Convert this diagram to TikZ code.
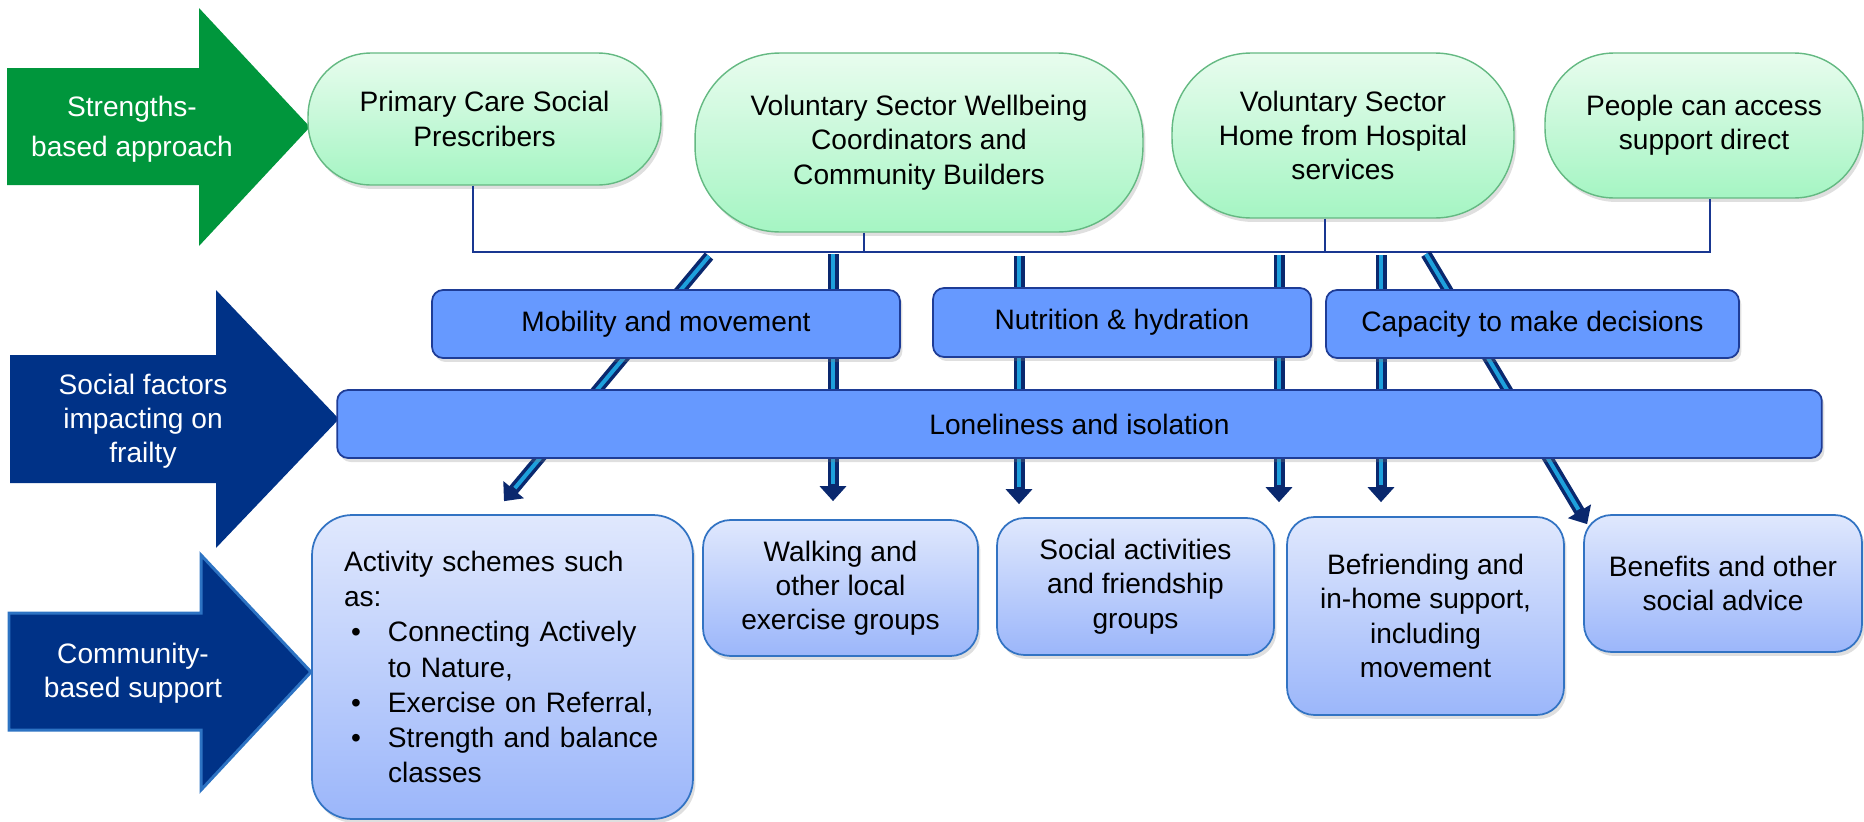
\documentclass[tikz,border=0pt]{standalone}
\usepackage{fontspec}
\setmainfont{Liberation Sans}
\usepackage{tikz}
\usetikzlibrary{arrows.meta,calc,shadows}

\definecolor{strengthgreen}{RGB}{0,150,60}
\definecolor{factornavy}{RGB}{0,50,135}
\definecolor{communityedge}{RGB}{45,115,195}
\definecolor{sourcetop}{RGB}{232,252,238}
\definecolor{sourcebottom}{RGB}{165,245,195}
\definecolor{sourceedge}{RGB}{100,185,130}
\definecolor{factorfill}{RGB}{102,153,255}
\definecolor{factoredge}{RGB}{30,60,150}
\definecolor{supporttop}{RGB}{224,232,253}
\definecolor{supportbottom}{RGB}{155,182,250}
\definecolor{supportedge}{RGB}{50,115,195}
\definecolor{busblue}{RGB}{25,55,145}
\definecolor{flownavy}{RGB}{10,40,110}
\definecolor{flowcyan}{RGB}{30,160,220}

\tikzset{
  boxtext/.style={font=\fontsize{16}{19.5}\selectfont, align=center, inner sep=0pt},
  softshadow/.style={drop shadow={opacity=0.25, shadow xshift=0.05cm, shadow yshift=-0.08cm}},
  sourcebox/.style={boxtext, draw=sourceedge, line width=0.8pt, top color=sourcetop, bottom color=sourcebottom, softshadow},
  factorbox/.style={boxtext, draw=factoredge, line width=1pt, fill=factorfill, rounded corners=0.22cm, minimum height=1.36cm, softshadow},
  supportbox/.style={boxtext, draw=supportedge, line width=1pt, top color=supporttop, bottom color=supportbottom, rounded corners=0.55cm, softshadow},
  sidetext/.style={font=\fontsize{16}{19.5}\selectfont, text=white, align=center},
  busline/.style={draw=busblue, line width=1.5pt},
  flow/.style={draw=flownavy, line width=0.22cm, -{Triangle[width=0.52cm,length=0.3cm]},
    postaction={draw=flowcyan, line width=0.08cm, -, shorten >=0.34cm}}
}

\begin{document}
\begin{tikzpicture}[x=0.02cm, y=-0.02cm]
    \useasboundingbox (0,0) rectangle (1864,822);

    % Side arrows
    \fill[strengthgreen] (7,68) -- (199,68) -- (199,8) -- (310,127) -- (199,246) -- (199,185) -- (7,185) -- cycle;
    \node[sidetext, font=\fontsize{16}{22.7}\selectfont] (lblstr) at (132,129) {Strengths-\\based approach};

    \fill[factornavy] (10,355) -- (216,355) -- (216,290) -- (339,419) -- (216,548) -- (216,483) -- (10,483) -- cycle;
    \node[sidetext] (lblsoc) at (143,421) {Social factors\\impacting on\\frailty};

    \filldraw[fill=factornavy, draw=communityedge, line width=0.06cm] (9,613) -- (201,613) -- (201,555) -- (311,672) -- (201,790) -- (201,730) -- (9,730) -- cycle;
    \node[sidetext] (lblcom) at (133,673) {Community-\\based support};

    % Referral routes
    \node[sourcebox, minimum width=7.06cm, minimum height=2.64cm, rounded corners=1.26cm] (pcsp) at (484.5,119) {Primary Care Social\\Prescribers};
    \node[sourcebox, minimum width=8.96cm, minimum height=3.58cm, rounded corners=1.7cm] (vswb) at (919,142.5) {Voluntary Sector Wellbeing\\Coordinators and\\Community Builders};
    \node[sourcebox, minimum width=6.84cm, minimum height=3.3cm, rounded corners=1.58cm] (vshh) at (1343,135.5) {Voluntary Sector\\Home from Hospital\\services};
    \node[sourcebox, minimum width=6.36cm, minimum height=2.9cm, rounded corners=1.38cm] (pcad) at (1704,125.5) {People can access\\support direct};

    % Community-based support
    \node[supportbox, minimum width=7.62cm, minimum height=6.08cm, rounded corners=0.8cm, text width=6.34cm, align=left, font=\fontsize{16}{20}\selectfont] (act) at (502.5,667)
      {Activity schemes such\\as:\\
       \hspace*{0.14cm}\makebox[0.74cm][l]{\textbullet}Connecting Actively\\
       \hspace*{0.88cm}to Nature,\\
       \hspace*{0.14cm}\makebox[0.74cm][l]{\textbullet}Exercise on Referral,\\
       \hspace*{0.14cm}\makebox[0.74cm][l]{\textbullet}Strength and balance\\
       \hspace*{0.88cm}classes};
    \node[supportbox, minimum width=5.5cm, minimum height=2.72cm] (walk) at (840.5,588) {Walking and\\other local\\exercise groups};
    \node[supportbox, minimum width=5.54cm, minimum height=2.74cm] (soc) at (1135.5,586.5) {Social activities\\and friendship\\groups};
    \node[supportbox, minimum width=5.54cm, minimum height=3.96cm] (bef) at (1425.5,616) {Befriending and\\in-home support,\\including\\movement};
    \node[supportbox, minimum width=5.56cm, minimum height=2.74cm] (ben) at (1723,583.5) {Benefits and other\\social advice};

    % Bus joining the referral routes
    \coordinate (busL) at (473,252);
    \coordinate (busR) at (1710,252);
    \coordinate (tapB) at (864,252);
    \coordinate (tapC) at (1325,252);
    \draw[busline] (pcsp.south -| busL) -- (busL) -- (busR) -- (pcad.south -| busR);
    \draw[busline] (vswb.south -| tapB) -- (tapB);
    \draw[busline] (vshh.south -| tapC) -- (tapC);

    % Flow arrows down to the support
    \coordinate (f0) at (709,256);
    \coordinate (f1) at (833,254);
    \coordinate (f2) at (1019,256);
    \coordinate (f3) at (1279,255);
    \coordinate (f4) at (1381,255);
    \coordinate (f5) at (1426,254);
    \draw[flow] (f0) -- ($(act.north)+(1.5,-13)$);
    \draw[flow] (f1) -- ($(walk.north -| f1)+(0,-18)$);
    \draw[flow] (f2) -- ($(soc.north -| f2)+(0,-13)$);
    \draw[flow] (f3) -- ($(bef.north -| f3)+(0,-14)$);
    \draw[flow] (f4) -- ($(bef.north -| f4)+(0,-14)$);
    \draw[flow] (f5) -- ($(ben.north west)+(4,10)$);

    % Social factors
    \node[factorbox, minimum width=9.36cm] (mob) at (666,324) {Mobility and movement};
    \node[factorbox, minimum width=7.56cm, minimum height=1.38cm] (nut) at (1122,322.5) {Nutrition \& hydration};
    \node[factorbox, minimum width=8.26cm] (cap) at (1532.5,324) {Capacity to make decisions};
    \node[factorbox, minimum width=29.7cm] (lone) at (1079.5,424) {Loneliness and isolation};
\end{tikzpicture}
\end{document}
